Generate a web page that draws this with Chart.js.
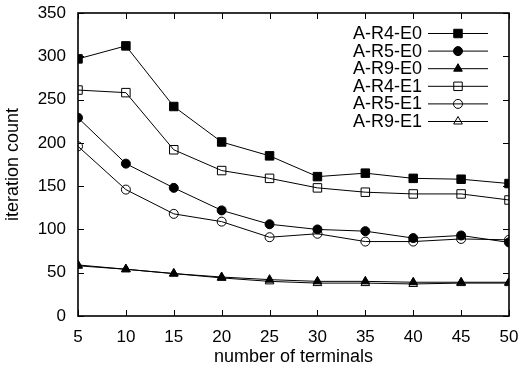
<!DOCTYPE html>
<html>
<head>
<meta charset="utf-8">
<script src="https://cdn.jsdelivr.net/npm/chart.js@4"></script>
<style>
  html, body { margin: 0; padding: 0; background: #fff; }
  #wrap { width: 519px; height: 374px; }
</style>
</head>
<body>
<div id="wrap"><canvas id="iterChart" width="519" height="374"></canvas></div>
<script>
const terminals = [5, 10, 15, 20, 25, 30, 35, 40, 45, 50];

const r4e0 = [297, 312, 242, 201, 185, 161, 165, 159, 158, 153];
const r5e0 = [229, 176, 148, 122, 106, 100, 98, 90, 93, 85];
const r9e0 = [58, 54, 49, 45, 42, 40, 40, 39, 39, 39];
const r4e1 = [261, 258, 192, 168, 159, 148, 143, 141, 141, 134];
const r5e1 = [196, 146, 118, 109, 91, 95, 86, 86, 89, 88];
const r9e1 = [59, 54, 49, 44, 40, 38, 38, 37, 38, 38];

const FONT = 'Liberation Sans, Arial, Helvetica, sans-serif';

function toPoints(values) {
  return values.map((v, i) => ({ x: terminals[i], y: v }));
}

function series(label, values, style, filled, radius) {
  return {
    label: label,
    data: toPoints(values),
    borderColor: '#000',
    borderWidth: 1,
    fill: false,
    tension: 0,
    pointStyle: style,
    pointRadius: radius,
    pointHoverRadius: radius,
    pointBorderColor: '#000',
    pointBorderWidth: 1,
    pointBackgroundColor: filled ? '#000' : 'rgba(0,0,0,0)'
  };
}

// gnuplot style frame: box + inward ticks mirrored on all four sides
const framePlugin = {
  id: 'frame',
  afterDatasetsDraw(chart) {
    const { ctx, chartArea: a, scales } = chart;
    const len = 6;
    ctx.save();
    ctx.strokeStyle = '#000';
    ctx.lineWidth = 1;
    ctx.beginPath();
    scales.x.ticks.forEach(t => {
      const px = Math.round(scales.x.getPixelForValue(t.value)) + 0.5;
      ctx.moveTo(px, a.bottom); ctx.lineTo(px, a.bottom - len);
      ctx.moveTo(px, a.top); ctx.lineTo(px, a.top + len);
    });
    scales.y.ticks.forEach(t => {
      const py = Math.round(scales.y.getPixelForValue(t.value)) + 0.5;
      ctx.moveTo(a.left, py); ctx.lineTo(a.left + len, py);
      ctx.moveTo(a.right, py); ctx.lineTo(a.right - len, py);
    });
    ctx.stroke();
    ctx.lineWidth = 1.6;
    ctx.strokeRect(a.left, a.top, a.right - a.left, a.bottom - a.top);
    ctx.restore();
  }
};

// key in the top right corner: label, then a line sample with its marker
const keyPlugin = {
  id: 'key',
  afterDraw(chart) {
    const { ctx } = chart;
    const textRight = 422, lineL = 428, lineR = 488, top = 33, step = 17.6;
    ctx.save();
    ctx.font = '18px ' + FONT;
    ctx.textAlign = 'right';
    ctx.textBaseline = 'middle';
    chart.data.datasets.forEach((ds, i) => {
      const y = top + i * step;
      ctx.fillStyle = '#000';
      ctx.fillText(ds.label, textRight, y + 1);
      ctx.strokeStyle = '#000';
      ctx.lineWidth = 1;
      ctx.beginPath();
      ctx.moveTo(lineL, y + 0.5);
      ctx.lineTo(lineR, y + 0.5);
      ctx.stroke();
      ctx.fillStyle = ds.pointBackgroundColor;
      Chart.helpers.drawPoint(ctx, {
        pointStyle: ds.pointStyle,
        radius: ds.pointRadius,
        rotation: 0,
        borderWidth: 1
      }, (lineL + lineR) / 2, y + 0.5);
    });
    ctx.restore();
  }
};

new Chart(document.getElementById('iterChart').getContext('2d'), {
  type: 'line',
  data: {
    datasets: [
      series('A-R4-E0', r4e0, 'rect', true, 6),
      series('A-R5-E0', r5e0, 'circle', true, 4.5),
      series('A-R9-E0', r9e0, 'triangle', true, 5),
      series('A-R4-E1', r4e1, 'rect', false, 6),
      series('A-R5-E1', r5e1, 'circle', false, 4.5),
      series('A-R9-E1', r9e1, 'triangle', false, 5)
    ]
  },
  options: {
    responsive: false,
    animation: false,
    layout: { padding: { left: 0, right: 10, top: 13, bottom: 0 } },
    plugins: {
      legend: { display: false },
      tooltip: { enabled: false }
    },
    scales: {
      x: {
        type: 'linear',
        min: 5,
        max: 50,
        afterFit: (s) => {
          s.height = 58;
          s.paddingLeft = 0;
          s.paddingRight = 0;
        },
        grid: { display: false, drawTicks: false },
        border: { display: false },
        ticks: {
          stepSize: 5,
          padding: 11,
          color: '#000',
          font: { family: FONT, size: 17 }
        },
        title: {
          display: true,
          text: 'number of terminals',
          color: '#000',
          font: { family: FONT, size: 18 },
          padding: { top: 4, bottom: 6 }
        }
      },
      y: {
        min: 0,
        max: 350,
        afterFit: (s) => {
          s.width = 78;
          s.paddingTop = 0;
          s.paddingBottom = 0;
        },
        grid: { display: false, drawTicks: false },
        border: { display: false },
        ticks: {
          stepSize: 50,
          padding: 12,
          color: '#000',
          font: { family: FONT, size: 17 }
        },
        title: {
          display: true,
          text: 'iteration count',
          color: '#000',
          font: { family: FONT, size: 18 },
          padding: { top: 2, bottom: 2 }
        }
      }
    }
  },
  plugins: [framePlugin, keyPlugin]
});
</script>
</body>
</html>
